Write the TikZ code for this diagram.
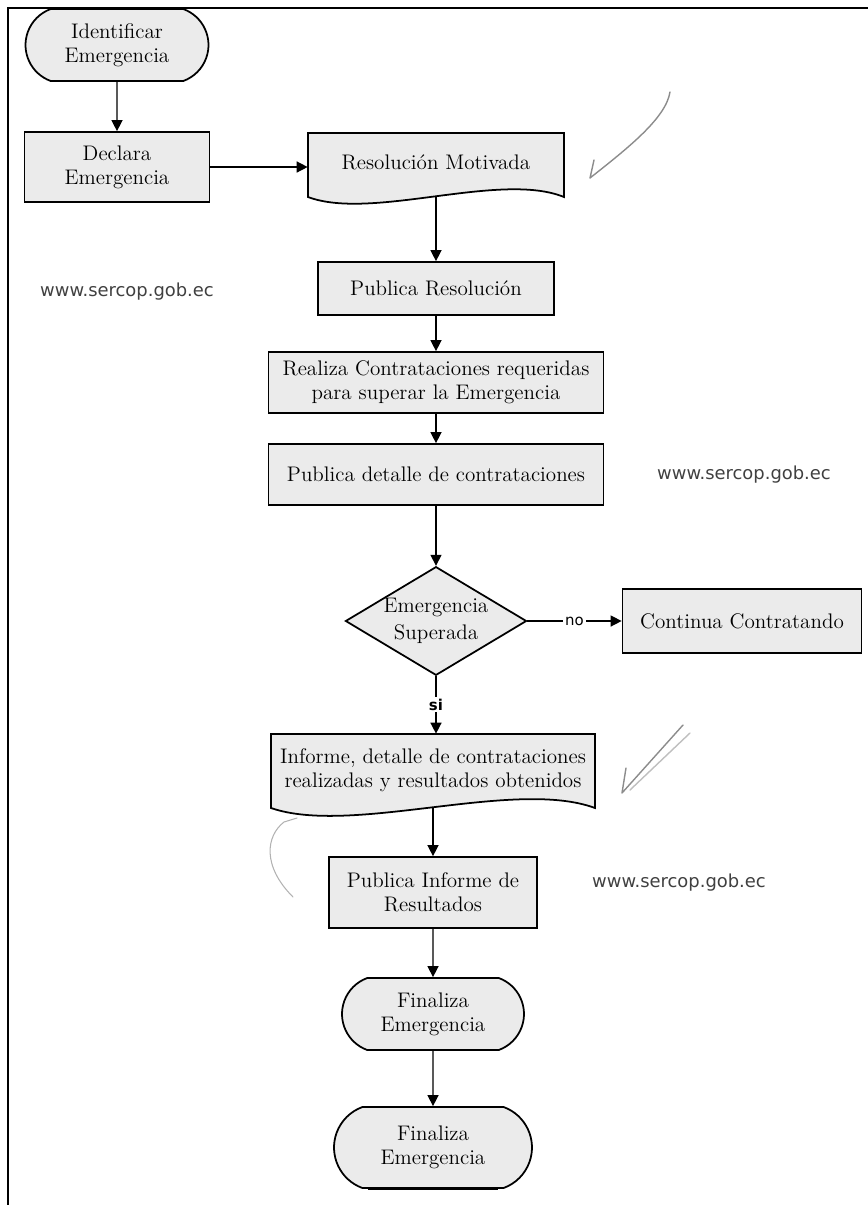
\documentclass[tikz,border=0pt]{standalone}
\usepackage{fontspec}
\newfontfamily\urlfont{DejaVu Sans}
\usetikzlibrary{shapes.geometric,shapes.misc,arrows.meta,calc}
\newcommand\mainfs{\fontsize{12}{13.6}\selectfont}
\begin{document}
\begin{tikzpicture}[x=0.02cm,y=-0.02cm,
  box/.style={draw, line width=1pt, fill=black!8, font=\mainfs, align=center, inner sep=0pt},
  proc/.style={box, rectangle},
  term/.style={box, rounded rectangle, rounded rectangle arc length=140},
  docbody/.style={draw, line width=1pt, fill=black!8},
  doctext/.style={font=\mainfs, align=center, inner sep=0pt},
  arr/.style={line width=0.8pt, -{Triangle[length=2.2mm,width=2.2mm]}},
  url/.style={font=\urlfont\fontsize{10.2}{12}\selectfont, text=black!75, inner sep=0pt},
  lbl/.style={font=\urlfont\fontsize{8.5}{10}\selectfont, fill=white, inner sep=1pt},
  pencil/.style={draw=black!45, line width=0.8pt, line cap=round, line join=round}
]
\useasboundingbox (0,0) rectangle (868,1205);
\draw[line width=1.1pt] (8,1205) -- (8,8) -- (868,8);

% terminals and processes
\node[term, minimum width=3.66cm, minimum height=1.44cm] (ident) at (117,45) {Identificar\\Emergencia};
\node[proc, minimum width=3.7cm, minimum height=1.4cm] (decl) at (117,167) {Declara\\Emergencia};

% document: Resolucion Motivada
\path[docbody] (308,133) -- (564,133) -- (564,197) .. controls (500,171) and (372,221) .. (308,197) -- cycle;
\node[doctext, minimum width=5.12cm, minimum height=1.28cm] (resol) at (436,165) {\raisebox{0.1cm}{Resolución Motivada}};

\node[proc, minimum width=4.72cm, minimum height=1.06cm] (pubres) at (436,288.5) {Publica Resolución};
\node[proc, minimum width=6.7cm, minimum height=1.22cm] (realiza) at (436,382.5) {Realiza Contrataciones requeridas\\para superar la Emergencia};
\node[proc, minimum width=6.7cm, minimum height=1.22cm] (pubdet) at (436,474.5) {Publica detalle de contrataciones};

\node[box, diamond, shape aspect=1.667, minimum width=3.6cm, minimum height=2.16cm] (dec) at (436,621) {Emergencia\\[2pt]Superada};
\node[proc, minimum width=4.78cm, minimum height=1.28cm] (cont) at (742,621) {Continua Contratando};

% document: Informe
\path[docbody] (271,734) -- (595,734) -- (595,808) .. controls (514,778) and (352,836) .. (271,808) -- cycle;
\node[doctext, minimum width=6.48cm, minimum height=1.48cm] (informe) at (433,771) {\raisebox{0.08cm}{\begin{tabular}{@{}c@{}}Informe, detalle de contrataciones\\realizadas y resultados obtenidos\end{tabular}}};

\node[proc, minimum width=4.16cm, minimum height=1.42cm] (pubinf) at (433,892.5) {Publica Informe de\\Resultados};
\node[term, minimum width=3.64cm, minimum height=1.44cm] (fin1) at (433,1014) {Finaliza\\Emergencia};
\node[term, minimum width=3.96cm, minimum height=1.62cm] (fin2) at (433,1147.5) {Finaliza\\Emergencia};
\draw[line width=1.8pt] ($(fin2.south)+(-1.3cm,0)$) -- ($(fin2.south)+(1.3cm,0)$);

% urls
\node[url] (url1) at (127,292) {www.sercop.gob.ec};
\node[url] (url2) at (744,475) {www.sercop.gob.ec};
\node[url] (url3) at (679,883) {www.sercop.gob.ec};

% connectors
\draw[arr] (ident) -- (decl);
\draw[arr] (decl.east) -- (decl.east -| resol.west);
\draw[arr] (resol.south) -- (pubres);
\draw[arr] (pubres) -- (realiza);
\draw[arr] (realiza) -- (pubdet);
\draw[arr] (pubdet) -- (dec);
\draw[arr] (dec.east) -- node[lbl] {no} (cont.west);
\draw[arr] (dec.south) -- node[lbl, font=\urlfont\bfseries\fontsize{8.5}{10}\selectfont] {si} (dec.south |- informe.north);
\draw[arr] (informe.south) -- (pubinf);
\draw[arr] (pubinf) -- (fin1);
\draw[arr] (fin1) -- (fin2);

% pencil marks
\draw[pencil] (670,92) .. controls (666,118) and (628,148) .. (590,178) -- (594,160);
\draw[pencil] (683,725) -- (622,793) -- (626,768);
\draw[pencil, draw=black!25] (690,733) -- (630,790);
\draw[pencil, draw=black!30, line width=0.6pt] (297,818) -- (284,822) .. controls (266,836) and (262,866) .. (293,897);
\end{tikzpicture}
\end{document}
